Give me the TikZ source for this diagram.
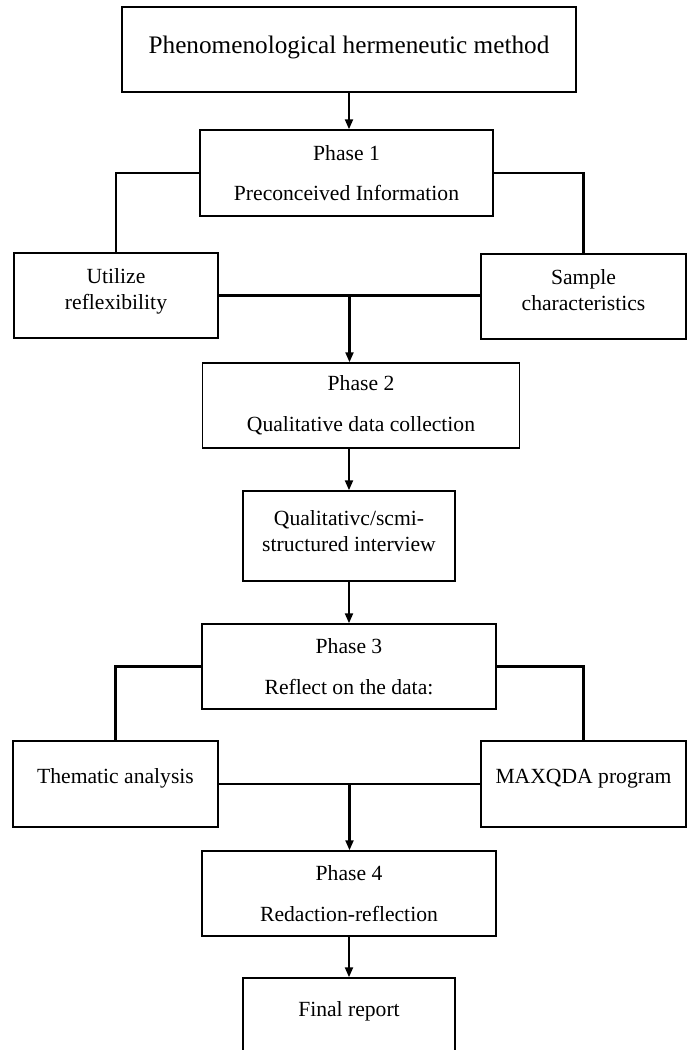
\documentclass[tikz,border=0pt]{standalone}
\usepackage{fontspec}
\setmainfont{Liberation Serif}
\usetikzlibrary{arrows.meta, calc}

\begin{document}
\begin{tikzpicture}[
  x=0.555pt, y=-0.555pt,
  box/.style  = {draw, line width=0.8pt, align=center, inner sep=0pt,
                 font=\fontsize{12}{14.5}\selectfont},
  wh/.style 2 args = {minimum width=#1*0.555pt, minimum height=#2*0.555pt},
  link/.style = {line width=1.15pt},
  arr/.style  = {-{Triangle[length=5.5pt, width=4.4pt]}, line width=1.15pt}
]
\useasboundingbox (0,0) rectangle (689,1050);
\clip (0,0) rectangle (689,1050);
% boxes
\node[box, wh={454}{85}, font=\fontsize{14}{17}\selectfont] (method) at (349,49.5)
  {Phenomenological hermeneutic method\\[-11.5pt]};
\node[box, wh={293}{86}] (P1) at (346.5,173) {Phase 1\\[8pt]Preconceived Information};
\node[box, wh={204}{85}] (util) at (116,295.5) {Utilize\\reflexibility\\[-7.3pt]};
\node[box, wh={205}{85}] (sample) at (583.5,296.5) {Sample\\characteristics\\[-7.3pt]};
\node[box, wh={317}{85}] (P2) at (361,405.5) {Phase 2\\[8pt]Qualitative data collection};
\node[box, wh={212}{90}] (iv) at (349,536) {Qualitativc/scmi-\\structured interview\\[-8.5pt]};
\node[box, wh={294}{85}] (P3) at (349,666.5) {Phase 3\\[8pt]Reflect on the data:};
\node[box, wh={205}{86}] (ta) at (115.5,784) {Thematic analysis\\[-5.5pt]};
\node[box, wh={205}{86}] (mq) at (583.5,784) {MAXQDA program\\[-5.5pt]};
\node[box, wh={294}{85}] (P4) at (349,893.5) {Phase 4\\[8pt]Redaction-reflection};
\node[box, wh={212}{86}] (final) at (349,1021) {Final report\\[-1.4pt]};
% connectors
\draw[arr] (method.south) -- (method.south |- P1.north);
\draw[link] (P1.west) -| (util.north);
\draw[link] (P1.east) -| (sample.north);
\draw[link] (util.east) -- (util.east -| sample.west);
\coordinate (j1) at ($(util.east)!0.5!(util.east -| sample.west)$);
\draw[arr] (j1) -- (j1 |- P2.north);
\draw[arr] (P2.south -| iv.north) -- (iv.north);
\draw[arr] (iv.south) -- (P3.north);
\draw[link] (P3.west) -| (ta.north);
\draw[link] (P3.east) -| (mq.north);
\draw[link] (ta.east) -- (mq.west);
\coordinate (j2) at ($(ta.east)!0.5!(mq.west)$);
\draw[arr] (j2) -- (j2 |- P4.north);
\draw[arr] (P4.south) -- (final.north);
\end{tikzpicture}
\end{document}
